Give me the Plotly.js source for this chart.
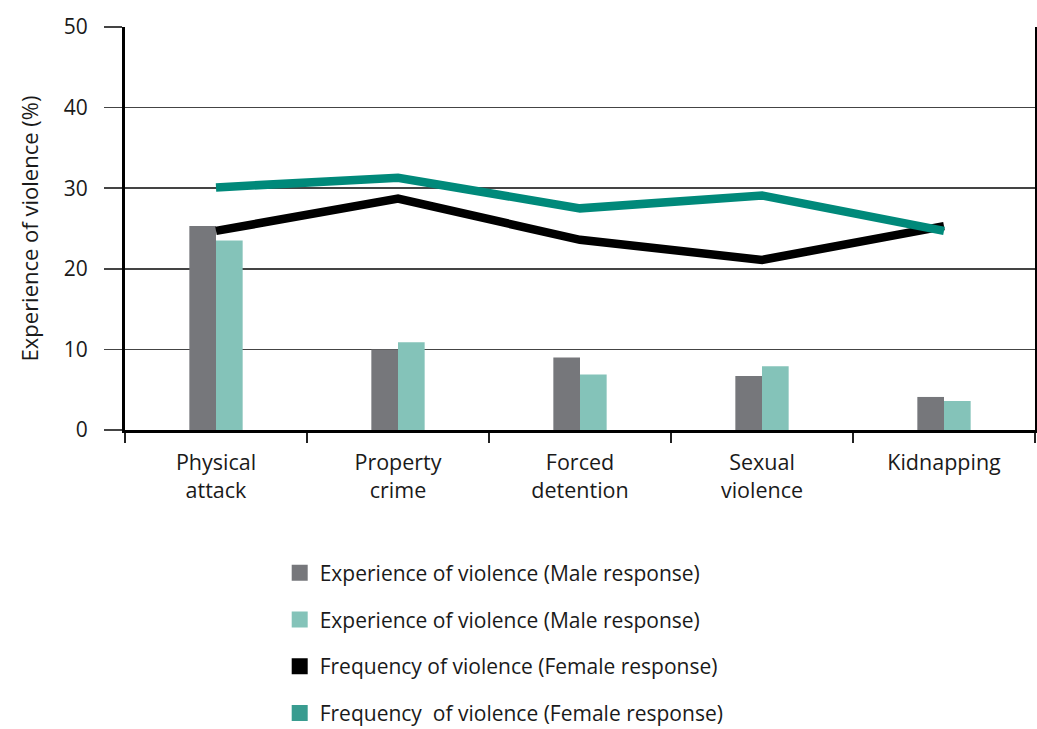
<!DOCTYPE html>
<html>
<head>
<meta charset="utf-8">
<script src="https://cdn.plot.ly/plotly-3.0.1.min.js"></script>
<style>html,body{margin:0;padding:0;background:#fff;}#chart{width:1037px;height:729px;}</style>
</head>
<body>
<div id="chart"></div>
<script>
const categories = ["Physical<br>attack", "Property<br>crime", "Forced<br>detention", "Sexual<br>violence", "Kidnapping"];
const experienceMale = [25.3, 10.0, 9.0, 6.7, 4.1];
const experienceFemale = [23.5, 10.9, 6.9, 7.9, 3.6];
const frequencyBlack = [24.7, 28.7, 23.6, 21.1, 25.3];
const frequencyTeal = [30.1, 31.3, 27.5, 29.1, 24.7];
const legendNames = [
  "Experience of violence (Male response)",
  "Experience of violence (Male response)",
  "Frequency of violence (Female response)",
  "Frequency  of violence (Female response)"
];
const colors = ["#76777B", "#84C3B9", "#000000", "#00897A"];
const legendColors = ["#76777B", "#84C3B9", "#000000", "#399C90"];

const FONT = "Open Sans, Noto Sans, sans-serif";

const traces = [
  {type: "bar", x: categories, y: experienceMale, marker: {color: colors[0]}, showlegend: false, hoverinfo: "y"},
  {type: "bar", x: categories, y: experienceFemale, marker: {color: colors[1]}, showlegend: false, hoverinfo: "y"},
  {type: "scatter", mode: "lines", x: categories, y: frequencyBlack, line: {color: colors[2], width: 8.5}, showlegend: false},
  {type: "scatter", mode: "lines", x: categories, y: frequencyTeal, line: {color: colors[3], width: 8.5}, showlegend: false}
];
legendNames.forEach((n, i) => {
  traces.push({type: "scatter", mode: "markers", x: [null], y: [null], name: n,
    legendgroup: "g" + i,
    marker: {symbol: "square", size: 16, color: legendColors[i]}, hoverinfo: "skip"});
});

const layout = {
  width: 1037, height: 729,
  margin: {l: 125, r: 2, t: 27, b: 299, autoexpand: false},
  paper_bgcolor: "#fff", plot_bgcolor: "#fff",
  font: {family: FONT, size: 21, color: "#1a1a1a"},
  barmode: "group",
  bargap: 0.707,
  bargroupgap: 0,
  showlegend: true,
  legend: {
    x: 0.17, xanchor: "left", y: -0.304, yanchor: "top",
    traceorder: "grouped", tracegroupgap: 16.5,
    font: {family: FONT, size: 21, color: "#1a1a1a"},
    bgcolor: "rgba(0,0,0,0)"
  },
  xaxis: {
    type: "category",
    showline: true, linecolor: "#000", linewidth: 3,
    ticks: "outside", tickson: "boundaries", ticklen: 10, tickwidth: 1.5, tickcolor: "#222",
    showgrid: false, zeroline: false,
    ticklabelstandoff: 11,
    tickfont: {family: FONT, size: 21.5, color: "#1a1a1a"}
  },
  yaxis: {
    range: [0, 50], dtick: 10, tick0: 0,
    showline: true, linecolor: "#000", linewidth: 3, mirror: true,
    ticks: "outside", ticklen: 18, tickwidth: 1.5, tickcolor: "#444",
    showgrid: true, gridcolor: "#444", gridwidth: 1.5,
    zeroline: false,
    ticklabelstandoff: 12,
    tickfont: {family: FONT, size: 21, color: "#1a1a1a"},
    title: {text: "Experience of violence (%)", font: {family: FONT, size: 22, color: "#1a1a1a"}, standoff: 20}
  }
};

Plotly.newPlot("chart", traces, layout, {displayModeBar: false, staticPlot: true});
</script>
</body>
</html>
